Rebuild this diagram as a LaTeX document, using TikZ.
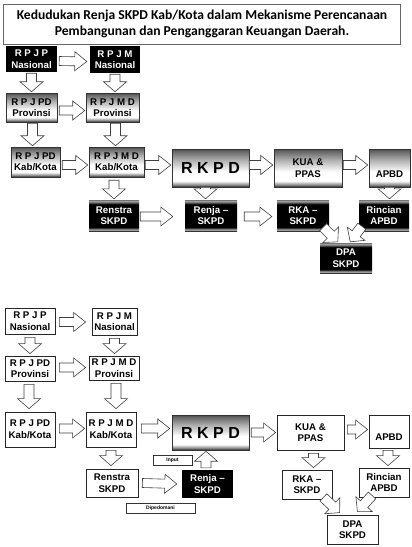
\documentclass[tikz,border=0pt]{standalone}
\usepackage{fontspec}
\setmainfont{Liberation Sans}
\newfontfamily\titlefont{Carlito}
\usetikzlibrary{calc}
\pgfdeclareverticalshading{metal}{100bp}{color(0bp)=(black!85); color(25bp)=(black!85); color(28bp)=(black!45); color(33bp)=(white); color(45bp)=(white); color(60bp)=(black!30); color(72bp)=(black!60); color(75bp)=(black!70); color(100bp)=(black!70)}
\pgfdeclareverticalshading{blkstrip}{100bp}{color(0bp)=(black!80); color(25bp)=(black!80); color(27bp)=(black!30); color(31bp)=(black); color(68bp)=(black); color(73bp)=(black!35); color(75bp)=(black!55); color(100bp)=(black!55)}
\tikzset{
  bx/.style={inner sep=0pt, align=center, font=\bfseries\fontsize{9.7}{11.5}\selectfont},
  blk/.style={bx, fill=black, text=white},
  met/.style={bx, draw=black!80, line width=0.5pt, shade, shading=metal, text=black},
  bst/.style={bx, shade, shading=blkstrip, text=white},
  wht/.style={bx, draw=black!85, fill=white, line width=0.8pt},
  lbl/.style={draw=black!80, fill=white, line width=0.6pt, inner sep=0pt, font=\bfseries\fontsize{5}{6}\selectfont},
  big/.style={font=\bfseries\fontsize{16}{18}\selectfont},
  barrowst/.style={draw=black!75, fill=white, line width=0.6pt, line join=miter},
}
% box: [style]{name}{x1}{y1}{x2}{y2}{text}
\newcommand\bx[7][]{\node[#1, minimum width={(#5-#3)*1pt}, minimum height={(#6-#4)*1pt}] (#2) at ({(#3+#5)/2},{(#4+#6)/2}) {#7};}
% block arrow: {start}{end}{shaft half width}{head half width}{head length}
\newcommand\barw[5]{%
  \draw[barrowst] let \p1=#1, \p2=#2, \n1={atan2(\y2-\y1,\x2-\x1)}, \n2={veclen(\x2-\x1,\y2-\y1)-#5pt} in
    ($(\p1)+(\n1+90:#3pt)$) -- ($(\p1)+(\n1:\n2)+(\n1+90:#3pt)$) -- ($(\p1)+(\n1:\n2)+(\n1+90:#4pt)$) -- (\p2)
    -- ($(\p1)+(\n1:\n2)+(\n1-90:#4pt)$) -- ($(\p1)+(\n1:\n2)+(\n1-90:#3pt)$) -- ($(\p1)+(\n1-90:#3pt)$) -- cycle;}
\newcommand\harw[2]{\barw{#1}{#2}{4.5}{9.5}{12}}
\newcommand\varw[2]{\barw{#1}{#2}{5}{11.5}{10}}
\begin{document}
\begin{tikzpicture}[x=1pt,y=-1pt]
\useasboundingbox (0,0) rectangle (412,547);
\fill[white] (0,0) rectangle (412,547);
% title
\node[draw=black!60, line width=1pt, minimum width=397pt, minimum height=40pt, inner sep=0pt, align=center,
  font=\titlefont\bfseries\fontsize{13.6}{15.5}\selectfont] (title) at (202,24)
  {Kedudukan Renja SKPD Kab/Kota dalam Mekanisme Perencanaan\\Pembangunan dan Penganggaran Keuangan Daerah.};
% ---------------- top diagram ----------------
\bx[blk]{rpjpT}{6}{46}{57}{72}{R P J P\\Nasional}
\bx[blk]{rpjmT}{90}{46}{140}{73}{R P J M\\Nasional}
\bx[met]{rpjpdpT}{6}{93}{57}{122}{R P J PD\\Provinsi}
\bx[met]{rpjmdpT}{86}{93}{139}{122}{R P J M D\\Provinsi}
\bx[met]{rpjpdkT}{11}{147}{60}{177}{R P J PD\\Kab/Kota}
\bx[met]{rpjmdkT}{89}{147}{144}{177}{R P J M D\\Kab/Kota}
\bx[met,big]{rkpdT}{172}{149}{249}{187}{R K P D}
\bx[met]{kuaT}{274}{149}{342}{187}{KUA \&\\PPAS}
\bx[met]{apbdT}{369}{149}{410}{187}{}
\node[bx] (apbdTtxt) at ($(apbdT.center)+(0,6)$) {APBD};
\bx[bst]{renstraT}{89}{200}{139}{231}{Renstra\\SKPD}
\bx[bst]{renjaT}{185}{200}{237}{231}{Renja –\\SKPD}
\bx[bst]{rkaT}{277}{200}{329}{231}{RKA –\\SKPD}
\bx[bst]{rincianT}{359}{200}{409}{231}{Rincian\\APBD}
\bx[bst]{dpaT}{320}{243}{372}{273}{DPA\\SKPD}
\harw{($(rpjpT.east)+(2,2)$)}{($(rpjmT.west)+(-3,2)$)}
\varw{($(rpjpT.south)+(0,1)$)}{($(rpjpT.south |- rpjpdpT.north)+(0,-1)$)}
\varw{($(rpjmT.south)+(0,1)$)}{($(rpjmT.south |- rpjmdpT.north)+(0,-1)$)}
\harw{($(rpjpdpT.east)+(2,3)$)}{($(rpjpdpT.east -| rpjmdpT.west)+(-1,3)$)}
\varw{($(rpjpdpT.south)+(1,1)$)}{($(rpjpdpT.south |- rpjpdkT.north)+(1,-1)$)}
\varw{($(rpjmdpT.south)+(3,1)$)}{($(rpjmdpT.south |- rpjmdkT.north)+(3,-1)$)}
\harw{($(rpjpdkT.east)+(2,3)$)}{($(rpjpdkT.east -| rpjmdkT.west)+(-1,3)$)}
\harw{($(rpjmdkT.east)+(1,3)$)}{($(rpjmdkT.east -| rkpdT.west)+(-1,3)$)}
\varw{($(renstraT.north |- rpjmdkT.south)+(0,3)$)}{($(renstraT.north)+(0,-1)$)}
\varw{($(rkpdT.south)+(-5,0)$)}{($(rkpdT.south |- renjaT.north)+(-5,-1)$)}
\harw{($(renstraT.east)+(1,1)$)}{($(renjaT.west)+(-12,1)$)}
\harw{($(renjaT.east)+(7,1)$)}{($(rkaT.west)+(-5,1)$)}
\harw{($(rkpdT.east)+(0,-3)$)}{($(rkpdT.east -| kuaT.west)+(-1,-3)$)}
\harw{($(kuaT.east)+(1,-3)$)}{($(kuaT.east -| apbdT.west)+(-1,-3)$)}
\varw{($(apbdT.south)+(0,0)$)}{($(apbdT.south |- rincianT.north)+(0,-1)$)}
\barw{($(rkaT.south east)+(-6,-4)$)}{($(dpaT.north west)+(18,-1)$)}{5}{11}{10}
\barw{($(rincianT.south west)+(3,-5)$)}{($(dpaT.north east)+(-22,-1)$)}{5}{11}{10}
% ---------------- bottom diagram ----------------
\bx[wht]{rpjpB}{5}{308}{55}{334}{R P J P\\Nasional}
\bx[wht]{rpjmB}{92}{308}{137}{335}{R P J M\\Nasional}
\bx[wht]{rpjpdpB}{5}{356}{55}{381}{R P J PD\\Provinsi}
\bx[wht]{rpjmdpB}{89}{356}{139}{380}{R P J M D\\Provinsi}
\bx[wht]{rpjpdkB}{5}{412}{55}{447}{R P J PD\\Kab/Kota}
\bx[wht]{rpjmdkB}{86}{412}{136}{447}{R P J M D\\Kab/Kota}
\bx[met,big]{rkpdB}{172}{415}{249}{450}{R K P D}
\bx[wht]{kuaB}{277}{415}{344}{450}{KUA \&\\PPAS}
\bx[wht]{apbdB}{369}{415}{409}{448}{}
\node[bx] (apbdBtxt) at ($(apbdB.center)+(0,6)$) {APBD};
\bx[wht]{renstraB}{86}{469}{138}{497}{Renstra\\SKPD}
\bx[blk]{renjaB}{182}{470}{233}{498}{Renja –\\SKPD}
\bx[wht]{rkaB}{282}{470}{332}{499}{RKA –\\SKPD}
\bx[wht]{rincianB}{359}{468}{409}{497}{Rincian\\APBD}
\bx[wht]{dpaB}{327}{515}{378}{544}{DPA\\SKPD}
\bx[lbl]{inputB}{153}{455}{192}{465}{Input}
\bx[lbl]{dipB}{126}{503}{195}{513}{Dipedomani}
\harw{($(rpjpB.east)+(4,1)$)}{($(rpjpB.east -| rpjmB.west)+(-6,1)$)}
\varw{($(rpjpB.south)+(0,3)$)}{($(rpjpB.south |- rpjpdpB.north)+(0,-2)$)}
\varw{($(rpjmB.south)+(0,3)$)}{($(rpjmB.south |- rpjmdpB.north)+(0,-2)$)}
\harw{($(rpjpdpB.east)+(4,-1)$)}{($(rpjpdpB.east -| rpjmdpB.west)+(-3,-1)$)}
\varw{($(rpjpdpB.south)+(-1,3)$)}{($(rpjpdpB.south |- rpjpdkB.north)+(-1,-3)$)}
\varw{($(rpjmdpB.south)+(2,3)$)}{($(rpjmdpB.south |- rpjmdkB.north)+(2,-3)$)}
\harw{($(rpjpdkB.east)+(4,-1)$)}{($(rpjpdkB.east -| rpjmdkB.west)+(-1,-1)$)}
\harw{($(rpjmdkB.east)+(5,-1)$)}{($(rpjmdkB.east -| rkpdB.west)+(-2,-1)$)}
\varw{($(rpjmdkB.south)+(0,3)$)}{($(rpjmdkB.south |- renstraB.north)+(0,-3)$)}
\harw{($(renstraB.east)+(4,0)$)}{($(renjaB.west)+(-5,0)$)}
\varw{($(renjaB.north)+(-1.5,-2)$)}{($(renjaB.north |- rkpdB.south)+(-1.5,1)$)}
\harw{($(rkpdB.east)+(2,0)$)}{($(rkpdB.east -| kuaB.west)+(-1,0)$)}
\harw{($(kuaB.east)+(3,-3)$)}{($(kuaB.east -| apbdB.west)+(-1,-3)$)}
\varw{($(kuaB.south)+(3,3)$)}{($(kuaB.south |- rkaB.north)+(3,-2)$)}
\varw{($(apbdB.south)+(-1,2)$)}{($(apbdB.south |- rincianB.north)+(-1,-2)$)}
\barw{($(rkaB.south east)+(-9,-2)$)}{($(dpaB.north west)+(13,-2)$)}{5}{11}{10}
\barw{($(rincianB.south)+(-12,-2)$)}{($(dpaB.north east)+(-21,-3)$)}{5}{11}{10}
\end{tikzpicture}
\end{document}
